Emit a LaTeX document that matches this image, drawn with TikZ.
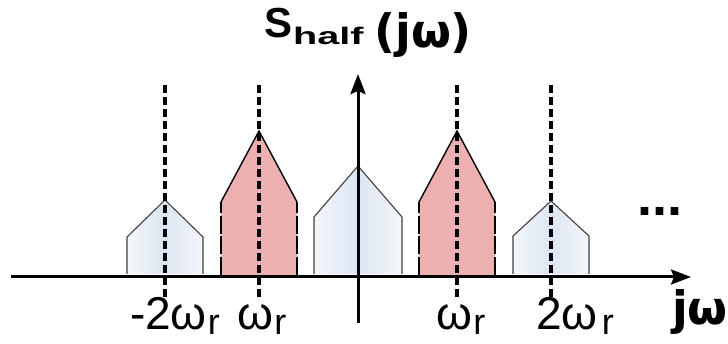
\documentclass[tikz,border=0pt]{standalone}
\usepackage{fontspec}
\setmainfont{Liberation Sans}
\newfontfamily\djv{DejaVu Sans}
\usetikzlibrary{arrows.meta}
\definecolor{pulsered}{HTML}{ECB0B1}
\definecolor{blueedge}{HTML}{F4F6FA}
\definecolor{bluemid}{HTML}{DCE6F2}
\tikzset{
  axisline/.style={line width=3pt, -{Stealth[length=20pt,width=15pt,inset=3pt]}},
  markline/.style={line width=3.4pt, dash pattern=on 8pt off 4pt},
  bluepulse/.style={left color=blueedge, right color=blueedge, middle color=bluemid, draw=black!75, line width=1.1pt},
  redside/.style={draw=black, line width=1.4pt, dash pattern=on 18pt off 2.5pt},
  redtop/.style={draw=black, line width=1.4pt},
  lab/.style={inner sep=0pt, anchor=base, font=\fontsize{46}{50}\selectfont},
}
\newcommand{\omr}{ω\kern1pt\raisebox{-5pt}[0pt][0pt]{\fontsize{36}{38}\selectfont r}}
\begin{document}
\begin{tikzpicture}[x=1pt,y=-1pt]
\useasboundingbox (0,0) rectangle (728,344);
% blue pulses
\foreach \c/\hw/\sh/\pk in {165/38/237/200, 358/44/217/166, 551/38/236/201}{
  \path[bluepulse] (\c-\hw,274) -- (\c-\hw,\sh) -- (\c,\pk) -- (\c+\hw,\sh) -- (\c+\hw,274);
}
% red pulses
\foreach \c in {259,457}{
  \fill[pulsered] (\c-38,275) -- (\c-38,202) -- (\c,131) -- (\c+38,202) -- (\c+38,275) -- cycle;
  \draw[redside] (\c-38,275) -- (\c-38,202);
  \draw[redside] (\c+38,275) -- (\c+38,202);
  \draw[redtop] (\c-38,202) -- (\c,131) -- (\c+38,202);
}
% dashed markers
\foreach \c in {165,259,457,551}{
  \draw[markline] (\c,85) -- (\c,300);
}
% axes
\coordinate (xs) at (11,277);
\coordinate (xe) at (691,277);
\coordinate (ys) at (358,323);
\coordinate (ye) at (358,74);
\draw[axisline] (xs) -- (xe);
\draw[axisline] (ys) -- (ye);
% title
\node[inner sep=0pt, anchor=base west] (ttl) at (264,38) {\fontsize{42}{44}\selectfont\bfseries S\kern1pt\raisebox{-7pt}{\scalebox{1.65}[1]{\fontsize{24}{26}\selectfont half}}};
\node[inner sep=0pt, anchor=base west] (ttl2) at (374,48) {\djv\bfseries\fontsize{46}{48}\selectfont (jω)};
% labels
\node[lab] (l1) at (175,330) {-2\omr};
\node[lab] (l2) at (262,330) {\omr};
\node[lab] (l3) at (461,330) {\omr};
\node[lab] (l4) at (575,330) {2ω\kern4pt\raisebox{-5pt}[0pt][0pt]{\fontsize{36}{38}\selectfont r}};
\node[inner sep=0pt, anchor=base west] (jw) at (672,325) {\djv\bfseries\fontsize{46}{48}\selectfont jω};
\node[inner sep=0pt, anchor=base] (dots) at (660,216) {\bfseries\fontsize{54}{56}\selectfont ...};
\end{tikzpicture}
\end{document}
